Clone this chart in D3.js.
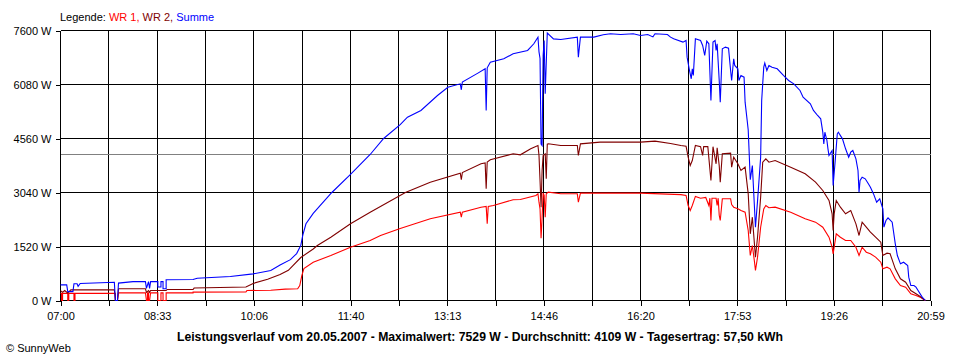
<!DOCTYPE html>
<html><head><meta charset="utf-8">
<script src="https://cdn.jsdelivr.net/npm/d3@7"></script>
<style>
html,body{margin:0;padding:0;background:#fff;}
svg{display:block;font-family:"Liberation Sans",Arial,sans-serif;}
</style></head>
<body><svg id="chart" width="960" height="360"></svg>
<script>
// ---- data ----
const yTickValues = [0, 1520, 3040, 4560, 6080, 7600];
const xTickLabels = ["07:00","08:33","10:06","11:40","13:13","14:46","16:20","17:53","19:26","20:59"];
const averageW = 4109;
const legendItems = [["WR 1, ","#ff0000"],["WR 2, ","#800000"],["Summe","#0000ff"]];
const titleText = "Leistungsverlauf vom 20.05.2007 - Maximalwert: 7529 W - Durchschnitt: 4109 W - Tagesertrag: 57,50 kWh";

const wr1 = [
["07:00",200],["07:01",200],["07:01",0],["07:02",0],["07:02",200],
["07:07",200],["07:07",0],["07:08",0],["07:08",200],
["07:13",200],["07:13",0],["07:14",0],["07:14",200],
["07:53",205],["07:53",0],["07:55",0],["07:56",215],
["08:22",215],["08:23",0],["08:24",0],["08:24",215],["08:25",215],["08:25",0],["08:26",0],["08:27",215],
["08:34",215],["08:34",0],["08:37",0],["08:37",215],
["08:39",215],["08:39",0],["08:42",0],["08:42",215],
["09:08",215],["09:08",235],["09:59",240],["10:00",280],["10:23",290],["10:37",320],["10:49",330],
["10:51",420],["10:53",700],["10:55",900],["11:04",1078],["11:21",1267],["11:40",1500],["11:59",1689],
["12:09",1830],["12:28",2027],["12:57",2299],["13:26",2486],["13:27",2350],["13:28",2486],["13:46",2627],
["13:51",2650],["13:52",2159],["13:53",2650],["13:58",2674],["14:17",2835],["14:24",2843],["14:39",2956],
["14:41",3003],["14:42",2767],["14:43",2580],["14:44",1755],["14:45",2345],["14:46",3030],["14:47",2956],
["14:48",2345],["14:49",3003],["14:51",3049],["15:03",3003],["15:19",3003],["15:20",2767],["15:22",3022],
["16:20",3022],["16:59",2980],["17:04",2956],["17:06",2674],["17:08",2534],["17:10",2674],["17:13",2930],
["17:18",2880],["17:23",2900],["17:26",2674],["17:27",2880],["17:28",2252],["17:29",2880],["17:33",2880],
["17:34",2674],["17:35",2880],["17:36",2400],["17:37",2252],["17:39",2862],["17:47",2862],["17:48",2700],
["17:50",2627],["17:54",2580],["17:57",2534],["18:01",2486],["18:04",1970],["18:06",1267],["18:08",1548],
["18:10",1100],["18:11",845],["18:13",1220],["18:16",2063],["18:19",2580],["18:21",2674],["18:24",2610],
["18:30",2627],["18:45",2486],["18:59",2299],["19:09",2205],["19:16",2063],["19:22",1782],["19:25",1500],
["19:26",1314],["19:27",1500],["19:29",1877],["19:33",1782],["19:38",1689],["19:43",1689],["19:48",1500],
["19:51",1267],["19:54",1500],["19:58",1360],["20:02",1314],["20:07",1220],["20:12",1078],["20:14",892],
["20:18",938],["20:21",892],["20:26",610],["20:31",422],["20:36",375],["20:41",188],["20:46",141],
["20:50",94],["20:55",0]
];

const wr2 = [
["07:00",280],["07:02",230],["07:04",280],["07:07",210],["07:10",300],["07:52",300],["07:53",0],["07:55",0],
["07:56",330],["08:22",330],["08:23",230],["08:25",280],["08:26",230],["08:27",280],["08:42",280],["08:43",310],
["09:08",310],["09:09",350],["09:59",380],["10:06",480],["10:20",600],["10:32",730],["10:40",850],["10:52",1210],
["11:04",1450],["11:08",1548],["11:21",1782],["11:40",2159],["11:59",2486],["12:33",3040],["12:57",3330],
["13:26",3584],["13:27",3400],["13:28",3600],["13:46",3847],["13:50",3870],["13:51",3144],["13:52",3900],
["13:55",3960],["14:17",4129],["14:24",4100],["14:34",4270],["14:41",4363],["14:42",4082],["14:43",3378],
["14:44",2627],["14:45",3660],["14:46",4082],["14:48",4130],["14:49",3425],["14:50",4400],["14:51",4410],
["15:03",4363],["15:19",4363],["15:20",4082],["15:22",4410],["15:41",4457],["16:20",4457],["16:34",4485],
["16:49",4420],["16:59",4363],["17:04",4344],["17:06",4034],["17:08",3800],["17:10",3941],["17:13",4363],
["17:18",4330],["17:20",4082],["17:21",4330],["17:25",4330],["17:28",3378],["17:30",4330],["17:33",3847],
["17:34",4300],["17:36",3800],["17:37",3330],["17:39",4129],["17:47",4147],["17:48",3753],["17:50",4034],
["17:54",3847],["17:57",3660],["18:01",3753],["18:04",3003],["18:06",1877],["18:08",2345],["18:11",1220],
["18:13",1782],["18:16",2909],["18:18",3894],["18:21",3988],["18:24",3894],["18:30",3941],["18:45",3753],
["18:59",3566],["19:09",3330],["19:16",3097],["19:22",2815],["19:25",2440],["19:26",1970],["19:27",2440],
["19:29",2815],["19:33",2627],["19:38",2440],["19:43",2534],["19:48",2159],["19:51",1830],["19:54",2205],
["19:58",2063],["20:02",1924],["20:07",1782],["20:12",1642],["20:14",1267],["20:18",1332],["20:21",1314],
["20:26",892],["20:31",610],["20:36",516],["20:41",282],["20:46",188],["20:50",113],["20:55",0]
];

const summe = [
["07:00",440],["07:06",440],["07:07",250],["07:12",250],["07:13",470],["07:16",470],["07:17",400],["07:19",480],
["07:39",500],["07:52",515],["07:53",0],["07:55",0],["07:56",490],["08:10",530],["08:22",530],["08:23",340],
["08:25",530],["08:26",340],["08:27",530],["08:34",530],["08:34",380],["08:37",380],["08:37",530],["08:39",530],
["08:39",330],["08:42",330],["08:42",582],["09:08",590],["09:12",628],["09:44",675],["10:06",750],["10:23",845],
["10:32",1000],["10:42",1150],["10:48",1320],["10:52",1550],["10:54",1850],["10:57",2159],["11:04",2450],
["11:22",3040],["11:40",3550],["11:59",4110],["12:12",4560],["12:28",4950],["12:35",5160],["12:48",5349],
["13:04",5771],["13:14",6000],["13:26",6099],["13:27",5931],["13:28",6150],["13:43",6400],["13:50",6522],
["13:51",5349],["13:52",6550],["13:55",6709],["14:08",6803],["14:17",6944],["14:31",7038],["14:37",7226],
["14:41",7413],["14:42",7000],["14:43",6813],["14:44",4400],["14:45",4360],["14:46",6900],["14:47",7320],
["14:48",5818],["14:50",7529],["14:56",7365],["15:03",7346],["15:19",7413],["15:20",6850],["15:22",7413],
["15:35",7413],["15:44",7480],["15:51",7507],["16:01",7487],["16:13",7507],["16:20",7460],["16:27",7487],
["16:32",7420],["16:34",7507],["16:46",7487],["16:49",7413],["16:52",7365],["17:01",7273],["17:04",7320],
["17:05",6850],["17:07",6520],["17:09",6240],["17:10",6520],["17:11",6335],["17:13",7365],["17:18",7320],
["17:20",7179],["17:22",6897],["17:24",7300],["17:26",7226],["17:28",5630],["17:30",7273],["17:32",7320],
["17:33",7038],["17:34",7226],["17:36",6193],["17:37",5583],["17:39",7085],["17:42",7132],["17:45",7100],
["17:47",6475],["17:48",6193],["17:50",6803],["17:51",6615],["17:54",6521],["17:55",6193],["17:57",6334],
["18:00",6287],["18:01",5583],["18:03",5067],["18:04",4800],["18:06",3400],["18:08",3800],["18:11",2063],
["18:13",2800],["18:16",4034],["18:17",5630],["18:19",6568],["18:20",6680],["18:22",6475],["18:24",6615],
["18:27",6568],["18:32",6521],["18:38",6334],["18:43",6193],["18:48",6099],["18:54",5912],["18:57",5724],
["19:04",5536],["19:07",5349],["19:11",5208],["19:14",5114],["19:16",4738],["19:17",4410],["19:18",4738],
["19:20",4504],["19:21",4270],["19:22",4082],["19:25",4222],["19:26",3237],["19:28",3941],["19:30",4692],
["19:31",4738],["19:35",4550],["19:38",4270],["19:41",4034],["19:43",4175],["19:45",4222],["19:48",3988],
["19:50",3660],["19:51",3049],["19:52",3378],["19:54",3470],["19:57",3425],["20:00",3284],["20:02",3190],
["20:05",3000],["20:08",2767],["20:11",2862],["20:14",2580],["20:15",2063],["20:17",2252],["20:19",2327],
["20:23",2205],["20:26",1595],["20:28",1267],["20:31",1032],["20:34",1078],["20:38",985],["20:39",657],
["20:41",422],["20:44",422],["20:46",375],["20:48",282],["20:52",94],["20:55",0]
];

// ---- drawing ----
const svg = d3.select("#chart");
const parse = d3.timeParse("%H:%M");
const t0 = parse("07:00"), t1 = parse("21:00");
const L = 60, R = 930, T = 30, B = 300;

const x = d3.scaleTime().domain([t0, t1]).range([L + 0.5, R + 0.5]);
const y = d3.scaleLinear().domain([0, 7600]).range([B + 0.5, T + 0.5]);

const nInt = 18;
const xTickDates = d3.range(nInt + 1).map(i => new Date(t0.getTime() + i * (t1 - t0) / nInt));

// grid
const grid = svg.append("g").attr("shape-rendering", "crispEdges");
grid.selectAll("line.v").data(xTickDates).join("line")
  .attr("x1", d => x(d)).attr("x2", d => x(d)).attr("y1", y(0)).attr("y2", y(7600))
  .attr("stroke", "#000").attr("stroke-width", 1);
grid.selectAll("line.h").data(yTickValues).join("line")
  .attr("x1", x(t0)).attr("x2", x(t1)).attr("y1", d => y(d)).attr("y2", d => y(d))
  .attr("stroke", "#000").attr("stroke-width", 1);
grid.append("line")
  .attr("x1", x(t0)).attr("x2", x(t1)).attr("y1", y(averageW)).attr("y2", y(averageW))
  .attr("stroke", "#808080").attr("stroke-width", 1);

// axes
const xAxis = d3.axisBottom(x).tickValues(xTickDates).tickSize(5).tickPadding(7)
  .tickFormat((d, i) => i % 2 === 0 ? xTickLabels[i / 2] : "");
const gx = svg.append("g").attr("transform", `translate(0,${y(0)})`).call(xAxis);
const yAxis = d3.axisLeft(y).tickValues(yTickValues).tickSize(5).tickPadding(4)
  .tickFormat(d => d + " W");
const gy = svg.append("g").attr("transform", `translate(${x(t0)},0)`).call(yAxis);
[gx, gy].forEach(g => {
  g.select(".domain").remove();
  g.selectAll("line").attr("stroke", "#000").attr("shape-rendering", "crispEdges");
  g.selectAll("text").attr("font-size", 11).attr("fill", "#000")
    .attr("font-family", "'Liberation Sans', Arial, sans-serif");
});

// series
const line = d3.line().x(d => x(parse(d[0]))).y(d => y(d[1]));
[[wr1, "#ff0000"], [wr2, "#800000"], [summe, "#0000ff"]].forEach(([data, color]) => {
  svg.append("path").datum(data).attr("d", line)
    .attr("fill", "none").attr("stroke", color).attr("stroke-width", 1.1)
    .attr("stroke-linejoin", "miter");
});

// legend
const leg = svg.append("text").attr("x", 60).attr("y", 21).attr("font-size", 11);
leg.append("tspan").attr("fill", "#000").text("Legende: ");
legendItems.forEach(([t, c]) => leg.append("tspan").attr("fill", c).text(t));

// title
svg.append("text").attr("x", 480).attr("y", 341).attr("text-anchor", "middle")
  .attr("font-size", 12).attr("font-weight", "bold").attr("fill", "#000")
  .attr("textLength", 606).attr("lengthAdjust", "spacingAndGlyphs").text(titleText);

// copyright
svg.append("text").attr("x", 6).attr("y", 352).attr("font-size", 11).attr("fill", "#000")
  .text("\u00A9 SunnyWeb");
</script></body></html>
